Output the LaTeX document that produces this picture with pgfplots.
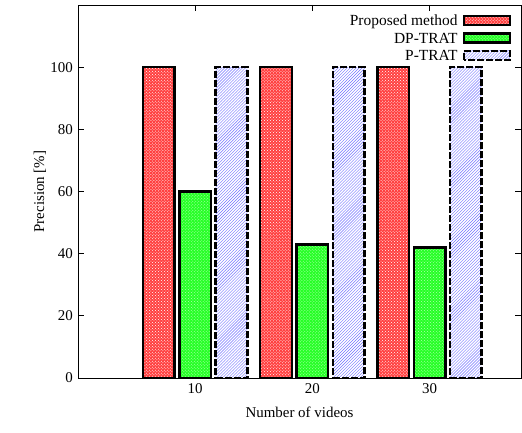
\documentclass[border=0pt]{standalone}
\usepackage{pgfplots}
\pgfplotsset{compat=1.18}
\usetikzlibrary{patterns}
\usepackage{fontspec}
\setmainfont{Liberation Serif}
\begin{document}
\fontsize{15}{18}\selectfont
\begin{tikzpicture}
\useasboundingbox (-78bp,-55bp) rectangle (444bp,378bp);
\begin{axis}[
  at={(0,0)}, anchor=south west,
  scale only axis,
  width=443bp, height=373bp,
  xmin=0, xmax=37.8,
  ymin=0, ymax=120,
  xtick={10,20,30},
  ytick={0,20,40,60,80,100},
  tick align=inside,
  major tick length=6bp,
  axis line style={line width=0.8bp},
  tick style={line width=0.8bp, black},
  /pgf/number format/assume math mode=true,
  xlabel={Number of videos},
  ylabel={Precision [\%]},
  xlabel style={yshift=-4bp},
  ylabel style={yshift=-6bp},
  ticklabel style={font=\fontsize{15}{18}\selectfont},
  label style={font=\fontsize{15}{18}\selectfont},
  bar width=2.7,
  legend style={draw=none, fill=none, at={(0.978,0.975)}, anchor=north east,
    font=\fontsize{15.5}{16}\selectfont, row sep=5.5bp, inner sep=0pt,
    nodes={inner ysep=0.3bp, inner xsep=5bp, text depth=0.5bp}},
  legend cell align=right,
  legend plot pos=right,
  legend image code/.code={\draw[#1] (0bp,-4bp) rectangle (46bp,5bp);},
]
\addplot[ybar, bar shift=-3.1, draw=black, line width=2.5bp, fill=red!75,
  postaction={pattern=crosshatch dots, pattern color=white}]
  coordinates {(10,100) (20,100) (30,100)};
\addlegendentry{Proposed method}
\addplot[ybar, bar shift=0, draw=black, line width=2.5bp, fill=green!85,
  postaction={pattern=crosshatch dots, pattern color=white!70!green}]
  coordinates {(10,60) (20,43) (30,42)};
\addlegendentry{DP-TRAT}
\addplot[ybar, bar shift=3.1, draw=black, line width=2.5bp, dash pattern=on 7bp off 2bp, fill=white,
  postaction={pattern=north east lines, pattern color=blue!55}]
  coordinates {(10,100) (20,100) (30,100)};
\addlegendentry{P-TRAT}
\end{axis}
\end{tikzpicture}
\end{document}
